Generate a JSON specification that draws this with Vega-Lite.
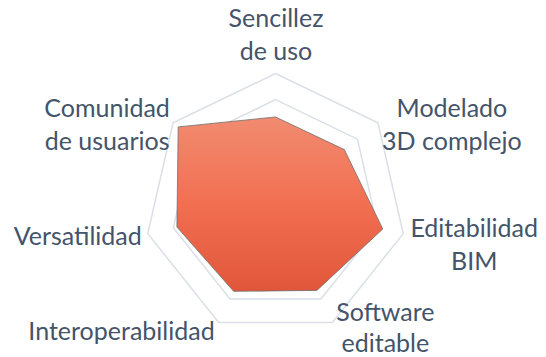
{
  "$schema": "https://vega.github.io/schema/vega-lite/v6.json",
  "width": 546,
  "height": 357,
  "padding": 0,
  "autosize": {"type": "none"},
  "background": "white",
  "config": {"view": {"stroke": null}},
  "datasets": {
    "scores": [
      {"i": 0, "criterio": "Sencillez\nde uso", "valor": 3.34},
      {"i": 1, "criterio": "Modelado\n3D complejo", "valor": 3.36},
      {"i": 2, "criterio": "Editabilidad\nBIM", "valor": 4.2},
      {"i": 3, "criterio": "Software\neditable", "valor": 3.64},
      {"i": 4, "criterio": "Interoperabilidad", "valor": 3.68},
      {"i": 5, "criterio": "Versatilidad", "valor": 3.86},
      {"i": 6, "criterio": "Comunidad\nde usuarios", "valor": 4.75}
    ],
    "rings": [
      {"nivel": 1, "i": [0, 1, 2, 3, 4, 5, 6]},
      {"nivel": 2, "i": [0, 1, 2, 3, 4, 5, 6]},
      {"nivel": 3, "i": [0, 1, 2, 3, 4, 5, 6]},
      {"nivel": 4, "i": [0, 1, 2, 3, 4, 5, 6]},
      {"nivel": 5, "i": [0, 1, 2, 3, 4, 5, 6]}
    ]
  },
  "data": {"name": "scores"},
  "layer": [
    {
      "data": {"name": "rings"},
      "transform": [
        {"flatten": ["i"]},
        {"calculate": "datum.i * 2 * PI / 7", "as": "theta"},
        {"calculate": "datum.nivel * sin(datum.theta)", "as": "px"},
        {"calculate": "datum.nivel * cos(datum.theta)", "as": "py"}
      ],
      "mark": {"type": "line", "interpolate": "linear-closed", "stroke": "#D9E0E7", "strokeWidth": 1.5},
      "encoding": {
        "x": {"field": "px", "type": "quantitative", "scale": {"domain": [-10.515, 10.324], "nice": false, "zero": false}, "axis": null},
        "y": {"field": "py", "type": "quantitative", "scale": {"domain": [-5.821, 7.805], "nice": false, "zero": false}, "axis": null},
        "detail": {"field": "nivel", "type": "nominal"},
        "order": {"field": "i", "type": "quantitative"}
      }
    },
    {
      "transform": [
        {"calculate": "datum.i * 2 * PI / 7", "as": "theta"},
        {"calculate": "datum.valor * sin(datum.theta)", "as": "px"},
        {"calculate": "datum.valor * cos(datum.theta)", "as": "py"}
      ],
      "mark": {
        "type": "line",
        "interpolate": "linear-closed",
        "stroke": "#6E6E6E",
        "strokeWidth": 0.8,
        "fill": {
          "gradient": "linear",
          "x1": 0, "y1": 0, "x2": 0, "y2": 1,
          "stops": [
            {"offset": 0, "color": "#F18B70"},
            {"offset": 0.5, "color": "#F26F51"},
            {"offset": 1, "color": "#E1563A"}
          ]
        }
      },
      "encoding": {
        "x": {"field": "px", "type": "quantitative"},
        "y": {"field": "py", "type": "quantitative"},
        "order": {"field": "i", "type": "quantitative"}
      }
    },
    {
      "transform": [
        {"filter": "datum.i == 0"},
        {"calculate": "datum.i * 2 * PI / 7", "as": "theta"},
        {"calculate": "5 * sin(datum.theta)", "as": "lx"},
        {"calculate": "5 * cos(datum.theta)", "as": "ly"}
      ],
      "mark": {"type": "text", "lineBreak": "\n", "align": "center", "baseline": "middle", "dx": 0.5, "dy": -54, "font": "Lato", "fontSize": 25, "lineHeight": 33, "color": "#44546A"},
      "encoding": {"x": {"field": "lx", "type": "quantitative"}, "y": {"field": "ly", "type": "quantitative"}, "text": {"field": "criterio"}}
    },
    {
      "transform": [
        {"filter": "datum.i == 1"},
        {"calculate": "datum.i * 2 * PI / 7", "as": "theta"},
        {"calculate": "5 * sin(datum.theta)", "as": "lx"},
        {"calculate": "5 * cos(datum.theta)", "as": "ly"}
      ],
      "mark": {"type": "text", "lineBreak": "\n", "align": "center", "baseline": "middle", "dx": 74, "dy": -13.8, "font": "Lato", "fontSize": 25, "lineHeight": 33, "color": "#44546A"},
      "encoding": {"x": {"field": "lx", "type": "quantitative"}, "y": {"field": "ly", "type": "quantitative"}, "text": {"field": "criterio"}}
    },
    {
      "transform": [
        {"filter": "datum.i == 2"},
        {"calculate": "datum.i * 2 * PI / 7", "as": "theta"},
        {"calculate": "5 * sin(datum.theta)", "as": "lx"},
        {"calculate": "5 * cos(datum.theta)", "as": "ly"}
      ],
      "mark": {"type": "text", "lineBreak": "\n", "align": "center", "baseline": "middle", "dx": 71, "dy": -5, "font": "Lato", "fontSize": 25, "lineHeight": 33, "color": "#44546A"},
      "encoding": {"x": {"field": "lx", "type": "quantitative"}, "y": {"field": "ly", "type": "quantitative"}, "text": {"field": "criterio"}}
    },
    {
      "transform": [
        {"filter": "datum.i == 3"},
        {"calculate": "datum.i * 2 * PI / 7", "as": "theta"},
        {"calculate": "5 * sin(datum.theta)", "as": "lx"},
        {"calculate": "5 * cos(datum.theta)", "as": "ly"}
      ],
      "mark": {"type": "text", "lineBreak": "\n", "align": "center", "baseline": "middle", "dx": 53, "dy": -10, "font": "Lato", "fontSize": 25, "lineHeight": 31, "color": "#44546A"},
      "encoding": {"x": {"field": "lx", "type": "quantitative"}, "y": {"field": "ly", "type": "quantitative"}, "text": {"field": "criterio"}}
    },
    {
      "transform": [
        {"filter": "datum.i == 4"},
        {"calculate": "datum.i * 2 * PI / 7", "as": "theta"},
        {"calculate": "5 * sin(datum.theta)", "as": "lx"},
        {"calculate": "5 * cos(datum.theta)", "as": "ly"}
      ],
      "mark": {"type": "text", "align": "right", "baseline": "middle", "dx": -4, "dy": 9.5, "font": "Lato", "fontSize": 25, "color": "#44546A"},
      "encoding": {"x": {"field": "lx", "type": "quantitative"}, "y": {"field": "ly", "type": "quantitative"}, "text": {"field": "criterio"}}
    },
    {
      "transform": [
        {"filter": "datum.i == 5"},
        {"calculate": "datum.i * 2 * PI / 7", "as": "theta"},
        {"calculate": "5 * sin(datum.theta)", "as": "lx"},
        {"calculate": "5 * cos(datum.theta)", "as": "ly"}
      ],
      "mark": {"type": "text", "align": "right", "baseline": "middle", "dx": -6, "dy": 3.4, "font": "Lato", "fontSize": 25, "color": "#44546A"},
      "encoding": {"x": {"field": "lx", "type": "quantitative"}, "y": {"field": "ly", "type": "quantitative"}, "text": {"field": "criterio"}}
    },
    {
      "transform": [
        {"filter": "datum.i == 6"},
        {"calculate": "datum.i * 2 * PI / 7", "as": "theta"},
        {"calculate": "5 * sin(datum.theta)", "as": "lx"},
        {"calculate": "5 * cos(datum.theta)", "as": "ly"}
      ],
      "mark": {"type": "text", "lineBreak": "\n", "align": "center", "baseline": "middle", "dx": -66, "dy": -13.8, "font": "Lato", "fontSize": 25, "lineHeight": 33, "color": "#44546A"},
      "encoding": {"x": {"field": "lx", "type": "quantitative"}, "y": {"field": "ly", "type": "quantitative"}, "text": {"field": "criterio"}}
    }
  ]
}
